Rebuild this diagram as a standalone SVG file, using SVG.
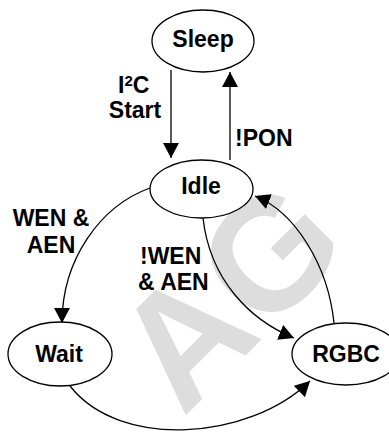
<svg xmlns="http://www.w3.org/2000/svg" width="389" height="432" viewBox="0 0 389 432">
  <style>
    .node { fill: #ffffff; stroke: #000000; stroke-width: 1.3; }
    .conn { fill: none; stroke: #000000; stroke-width: 1.3; marker-end: url(#arrow); }
    .t { font-family: "Liberation Sans", Arial, Helvetica, sans-serif; font-weight: bold; font-size: 23px; fill: #000000; }
    .mid { text-anchor: middle; }
    .wm { font-family: "Liberation Sans", Arial, Helvetica, sans-serif; font-weight: bold; font-size: 160px; fill: #dddddd; }
  </style>
  <defs>
    <marker id="arrow" viewBox="0 0 15 16" refX="15" refY="8" markerWidth="15" markerHeight="16" markerUnits="userSpaceOnUse" orient="auto">
      <path d="M0,0 L15,8 L0,16 z" fill="#000000"/>
    </marker>
  </defs>
  <rect x="0" y="0" width="389" height="432" fill="#ffffff"/>
  <g id="watermark">
    <text class="wm" transform="translate(183,418) rotate(-45)">AG</text>
  </g>
  <g id="connectors">
    <path class="conn" d="M171,70 L171,158"/>
    <path class="conn" d="M230,160 L230,72"/>
    <path class="conn" d="M150,188 C100,206 62,260 62,323"/>
    <path class="conn" d="M203,218 C210,280 250,320 294,338"/>
    <path class="conn" d="M334,323 C328,265 295,212 255,196"/>
    <path class="conn" d="M70,386 C120,450 250,440 310,381"/>
  </g>
  <g id="edge-labels">
    <text class="t" x="118" y="93">I<tspan font-size="15" dy="-7">2</tspan><tspan dy="7">C</tspan></text>
    <text class="t mid" x="135" y="118">Start</text>
    <text class="t" x="235" y="146">!PON</text>
    <text class="t mid" x="51" y="226">WEN &amp;</text>
    <text class="t mid" x="51" y="253">AEN</text>
    <text class="t" x="140" y="264">!WEN</text>
    <text class="t" x="138" y="290">&amp; AEN</text>
  </g>
  <g id="node-sleep">
    <ellipse class="node" cx="203" cy="41" rx="51" ry="31"/>
    <text class="t mid" x="203" y="47">Sleep</text>
  </g>
  <g id="node-idle">
    <ellipse class="node" cx="201.5" cy="189" rx="51.5" ry="29"/>
    <text class="t mid" x="201" y="194">Idle</text>
  </g>
  <g id="node-wait">
    <ellipse class="node" cx="60" cy="354" rx="52" ry="32"/>
    <text class="t mid" x="59" y="362">Wait</text>
  </g>
  <g id="node-rgbc">
    <ellipse class="node" cx="346" cy="354" rx="54" ry="31"/>
    <text class="t mid" x="346" y="362">RGBC</text>
  </g>
</svg>
